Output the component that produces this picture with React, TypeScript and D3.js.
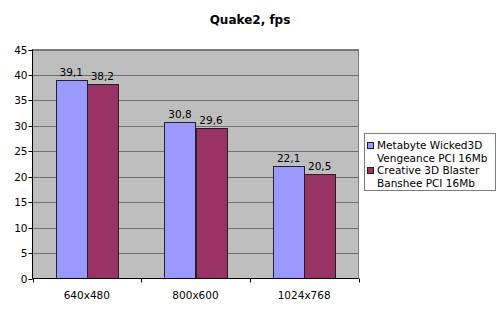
import React from "react";
import * as d3 from "d3";

const categories = ["640x480", "800x600", "1024x768"];
const seriesNames = [
  ["Metabyte Wicked3D", "Vengeance PCI 16Mb"],
  ["Creative 3D Blaster", "Banshee PCI 16Mb"],
];
const metabyte = [39.1, 30.8, 22.1];
const creative = [38.2, 29.6, 20.5];
const colors = ["#9999FF", "#993366"];
const yTicks = [0, 5, 10, 15, 20, 25, 30, 35, 40, 45];

export default function App() {
  const W = 500, H = 311;
  const left = 32.5, right = 358.5, top = 49.5, bottom = 278.5;
  const x = d3.scaleBand().domain(categories).range([left, right]).paddingInner(0).paddingOuter(0);
  const y = d3.scaleLinear().domain([0, 45]).range([bottom, top]);
  const bw = x.bandwidth() / 3.5;
  const series = [metabyte, creative];
  const font = "Verdana, 'DejaVu Sans', sans-serif";
  const fmt = (v: number) => v.toFixed(1).replace(".", ",");

  return (
    <svg width={W} height={H} style={{ position: "absolute", left: 0, top: 0, background: "#fff" }} fontFamily={font}>
      <defs>
        <pattern id="dither" width="2" height="2" patternUnits="userSpaceOnUse">
          <rect width="2" height="2" fill="#c0c0c0" />
          <rect width="1" height="1" fill="#b8b8b8" />
        </pattern>
      </defs>
      <text x={250} y={24} textAnchor="middle" fontSize={12} fontWeight="bold">Quake2, fps</text>
      <rect x={left} y={top} width={right - left} height={bottom - top} fill="url(#dither)" stroke="#808080" />
      {yTicks.map((t) => (
        <g key={t}>
          {t > 0 && <line x1={left} x2={right} y1={Math.round(y(t)) + 0.5} y2={Math.round(y(t)) + 0.5} stroke="#707070" />}
          <line x1={left - 4} x2={left} y1={Math.round(y(t)) + 0.5} y2={Math.round(y(t)) + 0.5} stroke="#000" />
          <text x={left - 5} y={Math.round(y(t)) + 4} textAnchor="end" fontSize={10.5}>{t}</text>
        </g>
      ))}
      {categories.map((c, i) =>
        series.map((s, j) => {
          const x0 = (x(c) as number) + bw * 0.75 + j * bw;
          const yy = y(s[i]);
          return (
            <g key={c + j}>
              <rect x={Math.round(x0) + 0.5} y={Math.round(yy) + 0.5} width={Math.round(bw)} height={bottom - Math.round(yy) - 0.5}
                fill={colors[j]} stroke="#222" strokeWidth={1} />
              <text x={x0 + bw / 2} y={yy - 4} textAnchor="middle" fontSize={10.5}>{fmt(s[i])}</text>
            </g>
          );
        })
      )}
      <line x1={left} x2={left} y1={top} y2={bottom} stroke="#000" />
      <line x1={left} x2={right} y1={bottom} y2={bottom} stroke="#000" />
      {[0, 1, 2, 3].map((k) => {
        const xx = Math.round(left + k * x.bandwidth()) + 0.5;
        return <line key={k} x1={xx} x2={xx} y1={bottom} y2={bottom + 4} stroke="#000" />;
      })}
      {categories.map((c) => (
        <text key={c} x={(x(c) as number) + x.bandwidth() / 2} y={299} textAnchor="middle" fontSize={10.5}>{c}</text>
      ))}
      <rect x={364.5} y={133.5} width={131} height={57} fill="#fff" stroke="#808080" />
      {seriesNames.map((lines, j) => (
        <g key={j}>
          <rect x={367.5} y={142.5 + j * 25} width={6} height={6} fill={colors[j]} stroke="#222" />
          <text x={377} y={149 + j * 25} fontSize={10.5}>{lines[0]}</text>
          <text x={377} y={161.5 + j * 25} fontSize={10.5}>{lines[1]}</text>
        </g>
      ))}
    </svg>
  );
}
